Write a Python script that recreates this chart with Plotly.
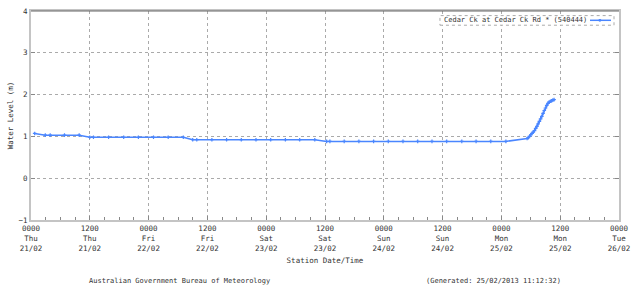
import plotly.graph_objects as go

# ---- data ----
times = [
    "2013-02-21 00:45", "2013-02-21 02:55", "2013-02-21 03:55", "2013-02-21 06:50",
    "2013-02-21 09:50", "2013-02-21 12:00", "2013-02-21 12:45", "2013-02-21 15:50",
    "2013-02-21 18:55", "2013-02-21 21:55", "2013-02-22 01:00", "2013-02-22 04:00",
    "2013-02-22 07:05", "2013-02-22 09:00", "2013-02-22 09:50", "2013-02-22 12:55",
    "2013-02-22 15:55", "2013-02-22 18:55", "2013-02-22 21:55", "2013-02-23 00:55",
    "2013-02-23 03:55", "2013-02-23 06:50", "2013-02-23 09:55", "2013-02-23 12:20",
    "2013-02-23 13:00", "2013-02-23 15:55", "2013-02-23 18:55", "2013-02-23 21:55",
    "2013-02-24 00:55", "2013-02-24 03:55", "2013-02-24 06:55", "2013-02-24 09:50",
    "2013-02-24 12:50", "2013-02-24 15:55", "2013-02-24 18:50", "2013-02-24 21:50",
    "2013-02-25 00:55", "2013-02-25 05:15", "2013-02-25 05:30", "2013-02-25 05:45",
    "2013-02-25 06:00", "2013-02-25 06:15", "2013-02-25 06:30", "2013-02-25 06:45",
    "2013-02-25 07:00", "2013-02-25 07:15", "2013-02-25 07:30", "2013-02-25 07:45",
    "2013-02-25 08:00", "2013-02-25 08:15", "2013-02-25 08:30", "2013-02-25 08:45",
    "2013-02-25 09:00", "2013-02-25 09:15", "2013-02-25 09:30", "2013-02-25 09:45",
    "2013-02-25 10:00", "2013-02-25 10:15", "2013-02-25 10:30", "2013-02-25 10:45",
]
levels = [
    1.07, 1.03, 1.03, 1.03,
    1.03, 0.98, 0.98, 0.98,
    0.98, 0.98, 0.98, 0.98,
    0.98, 0.92, 0.92, 0.92,
    0.92, 0.92, 0.92, 0.92,
    0.92, 0.92, 0.92, 0.88,
    0.88, 0.88, 0.88, 0.88,
    0.88, 0.88, 0.88, 0.88,
    0.88, 0.88, 0.88, 0.88,
    0.88, 0.95, 0.97, 1.00,
    1.04, 1.07, 1.10, 1.14,
    1.19, 1.24, 1.30, 1.36,
    1.42, 1.48, 1.55, 1.62,
    1.68, 1.74, 1.79, 1.82,
    1.84, 1.85, 1.87, 1.88,
]

tick_times = [
    "2013-02-21 00:00", "2013-02-21 12:00", "2013-02-22 00:00", "2013-02-22 12:00",
    "2013-02-23 00:00", "2013-02-23 12:00", "2013-02-24 00:00", "2013-02-24 12:00",
    "2013-02-25 00:00", "2013-02-25 12:00", "2013-02-26 00:00",
]
tick_hhmm = ["0000", "1200", "0000", "1200", "0000", "1200", "0000", "1200", "0000", "1200", "0000"]
tick_days = ["Thu", "Thu", "Fri", "Fri", "Sat", "Sat", "Sun", "Sun", "Mon", "Mon", "Tue"]
tick_dates = ["21/02", "21/02", "22/02", "22/02", "23/02", "23/02", "24/02", "24/02",
              "25/02", "25/02", "26/02"]
tick_text = [f"{a}<br>{b}<br>{c}" for a, b, c in zip(tick_hhmm, tick_days, tick_dates)]

series_name = "Cedar Ck at Cedar Ck Rd * (540444)"
y_ticks = [-1, 0, 1, 2, 3, 4]

FONT = "DejaVu Sans Mono"
TXT = "#333333"
BLUE = "#4a86ff"
GRID = "#aaaaaa"

fig = go.Figure()
fig.add_trace(go.Scatter(
    x=times, y=levels, mode="lines+markers", name=series_name,
    line=dict(color=BLUE, width=1.5),
    marker=dict(symbol="cross", size=3, color=BLUE, line=dict(width=0)),
    showlegend=False,
))

fig.update_layout(
    width=640, height=286,
    margin=dict(l=31, r=21, t=7, b=66),
    paper_bgcolor="white", plot_bgcolor="white",
    font=dict(family=FONT, size=7, color=TXT),
    xaxis=dict(
        type="date",
        range=["2013-02-21 00:00", "2013-02-26 00:00"],
        tickmode="array", tickvals=tick_times, ticktext=tick_text,
        ticks="inside", ticklen=4, tickcolor="#888888",
        showgrid=True, gridcolor=GRID, griddash="dot", gridwidth=1,
        showline=True, linecolor="#c4c4c4", linewidth=2, mirror=True,
        minor=dict(dtick=3 * 3600000, ticks="inside", ticklen=3, tickcolor="#888888", showgrid=False),
        tickfont=dict(family=FONT, size=7.5, color=TXT),
        title=dict(text="Station Date/Time", font=dict(family=FONT, size=7.5, color=TXT), standoff=6),
        zeroline=False,
    ),
    yaxis=dict(
        range=[-1, 4], tickmode="array", tickvals=y_ticks,
        ticks="inside", ticklen=4, tickcolor="#888888",
        showgrid=True, gridcolor=GRID, griddash="dot", gridwidth=1,
        showline=True, linecolor="#c4c4c4", linewidth=2, mirror="ticks",
        tickfont=dict(family=FONT, size=7.5, color=TXT),
        title=dict(text="Water Level (m)", font=dict(family=FONT, size=7.5, color=TXT), standoff=4),
        zeroline=False,
    ),
)

# dark top border
fig.add_shape(type="line", xref="paper", yref="paper", x0=0, x1=1, y0=1, y1=1,
              line=dict(color="#666666", width=1))

# legend box (text followed by line sample)
fig.add_shape(type="rect", xref="paper", yref="paper", x0=0.6955, x1=0.9915, y0=0.932, y1=0.978,
              line=dict(color="#aaaaaa", width=1, dash="dot"), fillcolor="white", layer="above")
fig.add_annotation(xref="paper", yref="paper", x=0.6985, y=0.956, xanchor="left", yanchor="middle",
                   text=series_name, showarrow=False,
                   font=dict(family=FONT, size=7, color=TXT))
fig.add_shape(type="line", xref="paper", yref="paper", x0=0.9507, x1=0.9864, y0=0.9555, y1=0.9555,
              line=dict(color=BLUE, width=1.5), layer="above")
fig.add_shape(type="circle", xref="paper", yref="paper", x0=0.9650, x1=0.9700, y0=0.949, y1=0.962,
              line=dict(color=BLUE, width=0), fillcolor=BLUE, layer="above")

# footer
fig.add_annotation(xref="paper", yref="paper", x=(87 - 31) / 588, y=-0.29, xanchor="left", yanchor="middle",
                   text="Australian Government Bureau of Meteorology", showarrow=False,
                   font=dict(family=FONT, size=7, color=TXT))
fig.add_annotation(xref="paper", yref="paper", x=(424 - 31) / 588, y=-0.29, xanchor="left", yanchor="middle",
                   text="(Generated: 25/02/2013 11:12:32)", showarrow=False,
                   font=dict(family=FONT, size=7, color=TXT))

fig.write_html("out.html")
